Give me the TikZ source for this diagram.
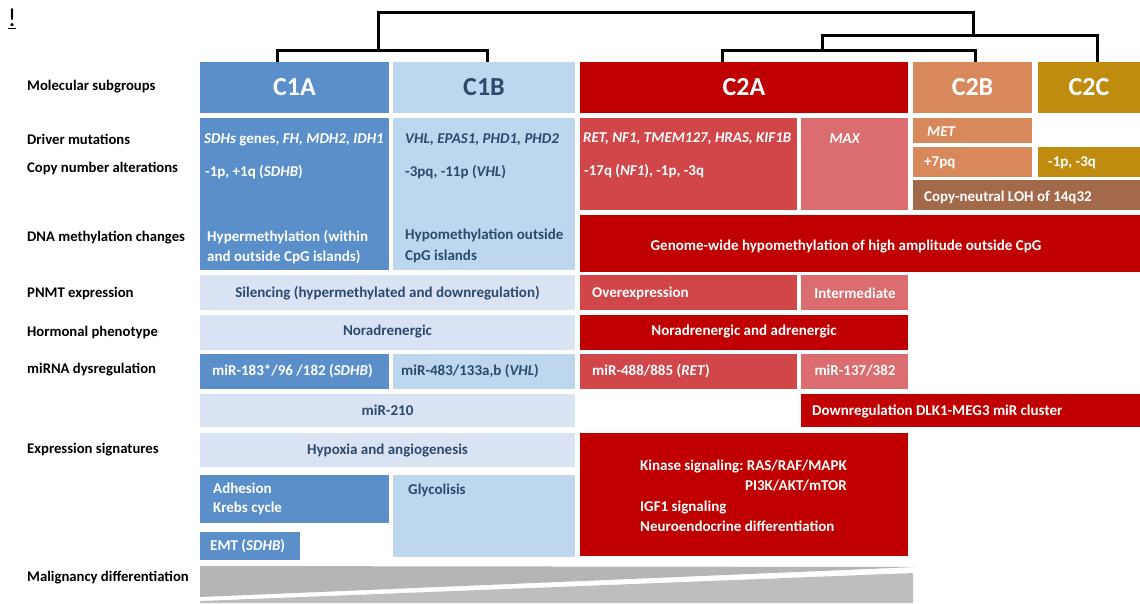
\documentclass[tikz,border=0pt]{standalone}
\usepackage{fontspec}
\setmainfont{Carlito}
\frenchspacing
\definecolor{blueM}{HTML}{5A8FC9}
\definecolor{blueL}{HTML}{BDD7EE}
\definecolor{lav}{HTML}{DAE3F3}
\definecolor{redD}{HTML}{C00000}
\definecolor{redM}{HTML}{D04649}
\definecolor{redL}{HTML}{DB6C6F}
\definecolor{orng}{HTML}{D9885C}
\definecolor{gold}{HTML}{BF8C10}
\definecolor{brwn}{HTML}{A2694B}
\definecolor{grayA}{HTML}{B5B5B5}
\definecolor{grayB}{HTML}{BEBEBE}
\definecolor{dtxt}{HTML}{2B4A6E}
\newcommand{\cellbox}[6]{\node[cellbox, fill=#6, minimum width={(#4-#2)*1pt}, minimum height={(#5-#3)*1pt}] (#1) at (#2,#3) {};}
\tikzset{
  cellbox/.style={inner sep=0, outer sep=0, anchor=north west, draw=none},
  lbl/.style={inner sep=0, anchor=west, font=\bfseries\fontsize{14.7}{17}\selectfont, text=black},
  wt/.style={inner sep=0, anchor=west, font=\bfseries\fontsize{15}{17}\selectfont, text=white},
  dt/.style={wt, text=dtxt},
  hdr/.style={inner sep=0, font=\bfseries\fontsize{26}{30}\selectfont, text=white},
  dend/.style={line width=3pt, draw=black, line join=miter}
}
\begin{document}
\begin{tikzpicture}[x=1pt,y=-1pt]
\useasboundingbox (0,0) rectangle (1140,603);
% top-left mark
\node[inner sep=0, font=\fontsize{26}{28}\selectfont] (mark) at (12,19) {\underline{!}};
% headers
\cellbox{c1a}{200}{62}{389}{113}{blueM}
\cellbox{c1b}{393}{62}{575}{113}{blueL}
\cellbox{c2a}{580}{62}{908}{113}{redD}
\cellbox{c2b}{913}{62}{1032}{113}{orng}
\cellbox{c2c}{1038}{62}{1140}{113}{gold}
\node[hdr] (h1a) at (c1a.center) {C1A};
\node[hdr, text=dtxt] (h1b) at (c1b.center) {C1B};
\node[hdr] (h2a) at (c2a.center) {C2A};
\node[hdr] (h2b) at (c2b.center) {C2B};
\node[hdr] (h2c) at (c2c.center) {C2C};
% dendrogram
\coordinate (j1) at (378,50);
\coordinate (j2) at (822,50);
\coordinate (j3) at (973,35);
\coordinate (root) at (675,12);
\draw[dend] ([xshift=-17.5pt]c1a.north) |- (j1) -| ([xshift=3pt]c1b.north);
\draw[dend] ([xshift=-22pt]c2a.north) |- (j2) -| ([xshift=2.5pt]c2b.north);
\draw[dend] (j2) |- (j3) -| ([xshift=8pt]c2c.north);
\draw[dend] (j1) |- (root) -| (j3);
% row labels
\node[lbl] (l1) at (27,87) {Molecular subgroups};
\node[lbl] (l2) at (27,139) {Driver mutations};
\node[lbl] (l3) at (27,168) {Copy number alterations};
\node[lbl] (l4) at (27,238) {DNA methylation changes};
\node[lbl] (l5) at (27,293) {PNMT expression};
\node[lbl] (l6) at (27,332) {Hormonal phenotype};
\node[lbl] (l7) at (27,370) {miRNA dysregulation};
\node[lbl] (l8) at (27,450) {Expression signatures};
\node[lbl] (l9) at (27,578) {Malignancy differentiation};
% genomic block
\cellbox{g1a}{200}{118}{389}{270}{blueM}
\node[wt] (g1a1) at (204,140) {\textit{SDHs} genes, \textit{FH, MDH2, IDH1}};
\node[wt] (g1a2) at (205,172) {-1p, +1q (\textit{SDHB})};
\node[wt] (g1a3) at (207,237) {Hypermethylation (within};
\node[wt] (g1a4) at (207,257) {and outside CpG islands)};
\cellbox{g1b}{393}{118}{575}{270}{blueL}
\node[dt] (g1b1) at (405,140) {\textit{VHL, EPAS1, PHD1, PHD2}};
\node[dt] (g1b2) at (405,172) {-3pq, -11p (\textit{VHL})};
\node[dt] (g1b3) at (405,235) {Hypomethylation outside};
\node[dt] (g1b4) at (405,256) {CpG islands};
\cellbox{g2a}{580}{118}{797}{210}{redM}
\node[wt] (g2a1) at (583,139) {\textit{RET, NF1, TMEM127, HRAS, KIF1B}};
\node[wt] (g2a2) at (584,171) {-17q (\textit{NF1}), -1p, -3q};
\cellbox{gmax}{801}{118}{908}{210}{redL}
\node[wt, anchor=center] (gmax1) at (845,139) {\textit{MAX}};
\cellbox{gmet}{913}{118}{1032}{143}{orng}
\node[wt] (gmet1) at (927,132) {\textit{MET}};
\cellbox{g7pq}{913}{147}{1032}{177}{orng}
\node[wt] (g7pq1) at (924,163) {+7pq};
\cellbox{g2c}{1038}{147}{1140}{177}{gold}
\node[wt] (g2c1) at (1048,163) {-1p, -3q};
\cellbox{gloh}{913}{180}{1140}{210}{brwn}
\node[wt] (gloh1) at (924,197) {Copy-neutral LOH of 14q32};
\cellbox{gmeth}{580}{215}{1140}{272}{redD}
\node[wt, anchor=center] (gmeth1) at (846,246) {Genome-wide hypomethylation of high amplitude outside CpG};
% PNMT
\cellbox{p1}{200}{275}{575}{310}{lav}
\node[dt, anchor=center] (p1t) at (387.5,293) {Silencing (hypermethylated and downregulation)};
\cellbox{p2}{580}{275}{797}{310}{redM}
\node[wt] (p2t) at (592,293) {Overexpression};
\cellbox{p3}{801}{275}{908}{310}{redL}
\node[wt, anchor=center] (p3t) at (855,293) {Intermediate};
% hormonal
\cellbox{hm1}{200}{315}{575}{350}{lav}
\node[dt, anchor=center] (hm1t) at (387.5,332) {Noradrenergic};
\cellbox{hm2}{580}{315}{908}{350}{redD}
\node[wt, anchor=center] (hm2t) at (744,332) {Noradrenergic and adrenergic};
% miRNA
\cellbox{m1}{200}{354}{389}{389}{blueM}
\node[wt] (m1t) at (212,371) {miR-183*/96 /182 (\textit{SDHB})};
\cellbox{m2}{393}{354}{575}{389}{blueL}
\node[dt] (m2t) at (401,371) {miR-483/133a,b (\textit{VHL})};
\cellbox{m3}{580}{354}{797}{389}{redM}
\node[wt] (m3t) at (592,371) {miR-488/885 (\textit{RET})};
\cellbox{m4}{801}{354}{908}{389}{redL}
\node[wt, anchor=center] (m4t) at (855,371) {miR-137/382};
\cellbox{m5}{200}{394}{575}{427}{lav}
\node[dt, anchor=center] (m5t) at (387.5,410) {miR-210};
\cellbox{m6}{801}{394}{1140}{427}{redD}
\node[wt] (m6t) at (812,411) {Downregulation DLK1-MEG3 miR cluster};
% expression signatures
\cellbox{e1}{200}{433}{575}{467}{lav}
\node[dt, anchor=center] (e1t) at (387.5,450) {Hypoxia and angiogenesis};
\cellbox{e2}{200}{475}{389}{523}{blueM}
\node[wt] (e2t1) at (213,488) {Adhesion};
\node[wt] (e2t2) at (213,508) {Krebs cycle};
\cellbox{e3}{200}{532}{300}{560}{blueM}
\node[wt] (e3t) at (210,546) {EMT (\textit{SDHB})};
\cellbox{e4}{393}{475}{575}{557}{blueL}
\node[dt] (e4t) at (408,490) {Glycolisis};
\cellbox{e5}{580}{433}{908}{556}{redD}
\node[wt] (e5t1) at (640,466) {Kinase signaling: RAS/RAF/MAPK};
\node[wt, anchor=east] (e5t2) at (847,486) {PI3K/AKT/mTOR};
\node[wt] (e5t3) at (640,507) {IGF1 signaling};
\node[wt] (e5t4) at (640,526) {Neuroendocrine differentiation};
% malignancy wedges
\fill[grayA] (200,566) -- (916,567) -- (200,597) -- cycle;
\fill[grayB] (200,601) -- (913,573) -- (913,603) -- (200,603) -- cycle;
\end{tikzpicture}
\end{document}
